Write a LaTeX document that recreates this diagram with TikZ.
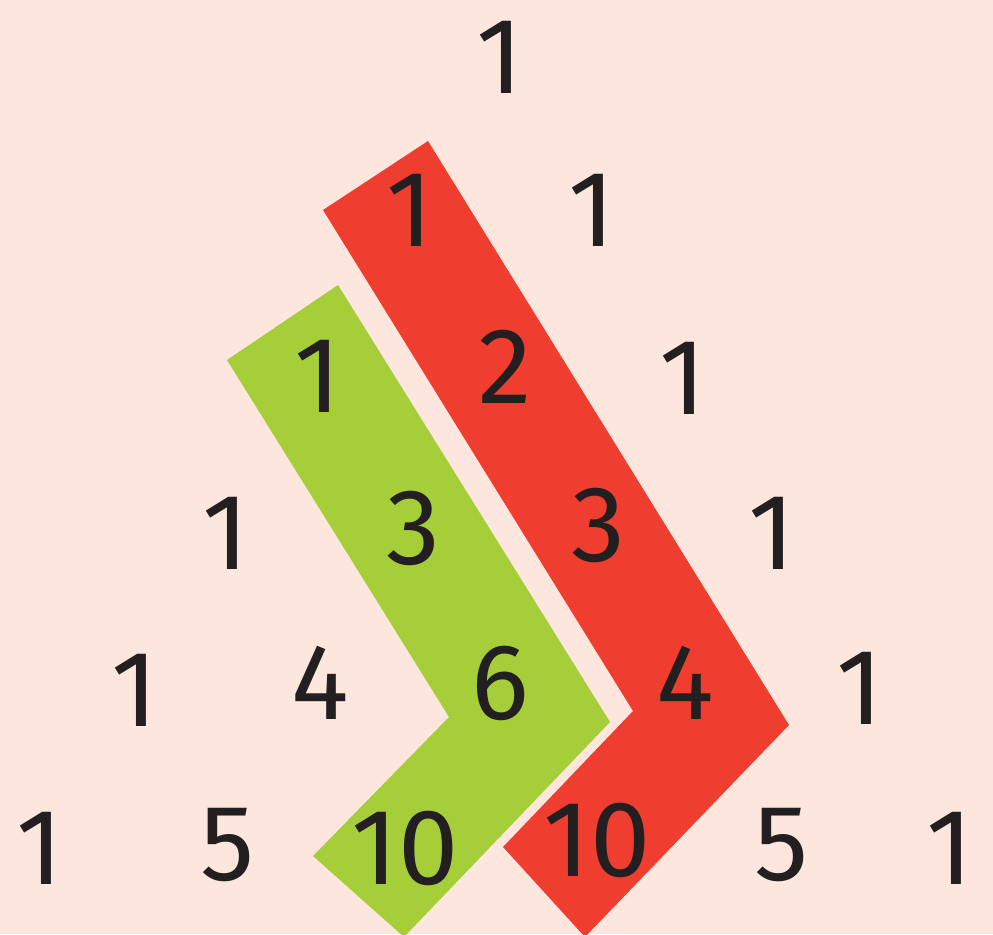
\documentclass[tikz,border=0pt]{standalone}
\usepackage{fontspec}
\setmainfont{Fira Sans}
\definecolor{bgpeach}{HTML}{FCE6DD}
\definecolor{bandred}{HTML}{EF3E2F}
\definecolor{bandgreen}{HTML}{A6CE39}
\definecolor{numink}{HTML}{231F20}
\begin{document}
\begin{tikzpicture}[
        x=0.5pt, y=-0.5pt,
        entry/.style={inner sep=0pt, text=numink, font=\fontsize{54}{54}\selectfont},
        band/.style={draw=none}
    ]

    % background
    \fill[bgpeach] (0,0) rectangle (993,934);
    \useasboundingbox (0,0) rectangle (993,934);

    % the two bands
    \fill[band, bandred] (323,210) -- (428,141) -- (789,725) -- (585,937)
        -- (503,847) -- (633,711) -- cycle;
    \fill[band, bandgreen] (227,360) -- (338,285) -- (610,722) -- (404,937)
        -- (313,856) -- (449,717) -- cycle;

    % row 0
    \node[entry] (r0a) at (500,57) {1};
    % row 1
    \node[entry] (r1a) at (410,210) {1};
    \node[entry] (r1b) at (592,210) {1};
    % row 2
    \node[entry] (r2a) at (318,376) {1};
    \node[entry] (r2b) at (505,367) {2};
    \node[entry] (r2c) at (683,378) {1};
    % row 3
    \node[entry] (r3a) at (226,533) {1};
    \node[entry] (r3b) at (413,528) {3};
    \node[entry] (r3c) at (598,525) {3};
    \node[entry] (r3d) at (772,533) {1};
    % row 4
    \node[entry] (r4a) at (135,690) {1};
    \node[entry] (r4b) at (320,683) {4};
    \node[entry] (r4c) at (500,683) {6};
    \node[entry] (r4d) at (685,683) {4};
    \node[entry] (r4e) at (860,688) {1};
    % row 5
    \node[entry] (r5a) at (40,848) {1};
    \node[entry] (r5b) at (228,845) {5};
    \node[entry] (r5c) at (405,848) {10};
    \node[entry] (r5d) at (597,840) {10};
    \node[entry] (r5e) at (782,845) {5};
    \node[entry] (r5f) at (950,848) {1};

\end{tikzpicture}
\end{document}
